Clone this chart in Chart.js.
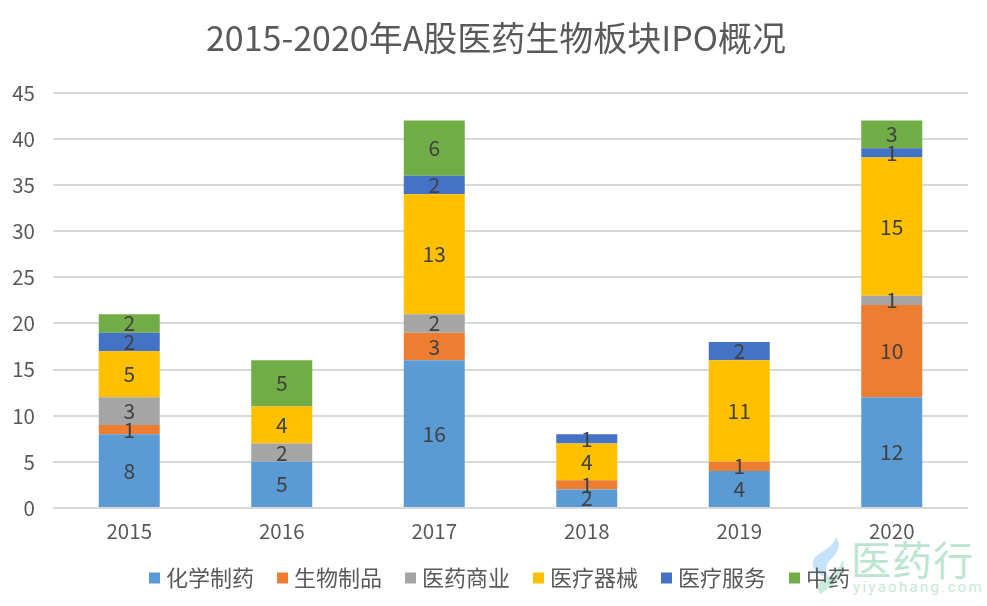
<!doctype html>
<html>
<head>
<meta charset="UTF-8">
<title>IPO</title>
<script src="https://cdn.jsdelivr.net/npm/chart.js"></script>
<style>
    html, body { margin: 0; padding: 0; background: #fff; }
    #wrap { position: relative; width: 987px; height: 606px; overflow: hidden; }
    #c { position: absolute; left: 0; top: 0; }
    #wm { position: absolute; left: 851px; top: 532px; color: #bbe5d0; font: 40px/52px "Noto Sans CJK SC"; letter-spacing: 1px; }
    #wm2 { position: absolute; left: 853px; top: 578px; color: #c5e8d8; font: 15px/18px Roboto; letter-spacing: 2.3px; }
    #logo { position: absolute; left: 805px; top: 530px; }
</style>
</head>
<body>
<div id="wrap">
    <svg id="logo" width="45" height="70" viewBox="805 530 45 70">
        <path d="M836 537 C842 546 838 553 830 560 C825 566 825 572 829 578 C818 576 811 568 813 561 C816 552 832 550 836 537 Z" fill="#c4e2fa"/>
        <path d="M843 559 C846 572 838 582 830 587 C826 590 823 592 820 594 C815 586 819 580 826 578 C833 575 840 569 843 559 Z" fill="#c8ebdc"/>
    </svg>
    <div id="wm">医药行</div>
    <div id="wm2">yiyaohang.com</div>
    <canvas id="c" width="987" height="606"></canvas>
</div>
<script>
var years = ['2015', '2016', '2017', '2018', '2019', '2020'];
var chem = [8, 5, 16, 2, 4, 12];
var bio = [1, null, 3, 1, 1, 10];
var biz = [3, 2, 2, null, null, 1];
var device = [5, 4, 13, 4, 11, 15];
var service = [2, null, 2, 1, 2, 1];
var tcm = [2, 5, 6, null, null, 3];

var FONT = '"Noto Sans CJK SC", "Noto Sans", sans-serif';

function ds(label, data, color) {
    return { label: label, data: data, backgroundColor: color, borderWidth: 0, stack: 's', categoryPercentage: 0.4, barPercentage: 1 };
}

// numbers in the middle of each segment
var valueLabels = {
    id: 'valueLabels',
    afterDatasetsDraw: function (chart) {
        var ctx = chart.ctx;
        ctx.save();
        ctx.fillStyle = '#404040';
        ctx.font = '21px ' + FONT;
        ctx.textAlign = 'center';
        ctx.textBaseline = 'middle';
        chart.data.datasets.forEach(function (d, i) {
            chart.getDatasetMeta(i).data.forEach(function (bar, j) {
                if (d.data[j] == null) return;
                var c = bar.getCenterPoint();
                ctx.fillText(d.data[j], c.x, c.y);
            });
        });
        ctx.restore();
    }
};

// title and legend are not centred on the canvas in the original
var nudgeBoxes = {
    id: 'nudgeBoxes',
    afterLayout: function (chart) {
        chart.titleBlock.left += 12;
        chart.titleBlock.right += 12;
        chart.legend.left += 18;
        chart.legend.right += 18;
    }
};

new Chart(document.getElementById('c').getContext('2d'), {
    type: 'bar',
    data: {
        labels: years,
        datasets: [
            ds('化学制药', chem, '#5b9bd5'),
            ds('生物制品', bio, '#ed7d31'),
            ds('医药商业', biz, '#a5a5a5'),
            ds('医疗器械', device, '#ffc000'),
            ds('医疗服务', service, '#4472c4'),
            ds('中药', tcm, '#70ad47')
        ]
    },
    options: {
        responsive: false,
        animation: false,
        layout: { padding: { left: 0, right: 19, top: 0, bottom: 7 } },
        plugins: {
            title: { display: true, text: '2015-2020年A股医药生物板块IPO概况', color: '#595959', font: { family: FONT, size: 34, weight: 'normal' }, padding: { top: 18, bottom: 34 } },
            legend: { position: 'bottom', labels: { color: '#595959', font: { family: FONT, size: 22 }, usePointStyle: true, pointStyle: 'rect', boxWidth: 1, boxHeight: 11, padding: 28 } },
            tooltip: { enabled: false }
        },
        scales: {
            x: {
                stacked: true,
                afterFit: function (scale) { scale.height = 31; },
                grid: { display: false, drawTicks: false },
                border: { display: false },
                ticks: { padding: 11, color: '#595959', font: { family: FONT, size: 20.5 } }
            },
            y: {
                stacked: true, min: 0, max: 45,
                afterFit: function (scale) { scale.width = 53; },
                ticks: { stepSize: 5, padding: 18, color: '#595959', font: { family: FONT, size: 20.5 } },
                grid: { color: '#d9d9d9', lineWidth: 2, drawTicks: false },
                border: { display: false }
            }
        }
    },
    plugins: [valueLabels, nudgeBoxes]
});
</script>
</body>
</html>
